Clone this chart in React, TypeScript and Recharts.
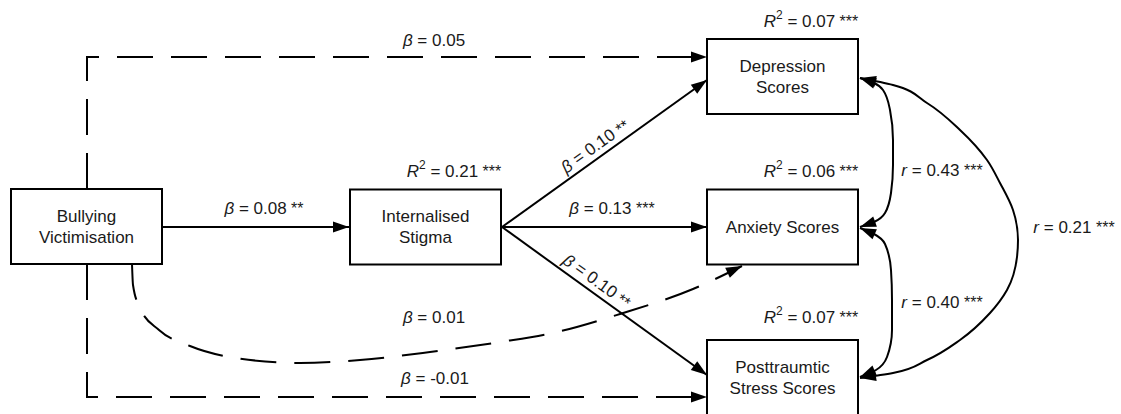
import React from 'react';
import { ComposedChart, Line, Scatter, XAxis, YAxis } from 'recharts';

const W = 1121;
const H = 414;
const BOX_W = 151;
const BOX_H = 75;
const FONT = '"Liberation Sans", Arial, sans-serif';

// Diagram nodes (centre positions in the diagram's coordinate space)
const nodes = [
  { id: 'bully', x: 86.5, y: 226.5, label: ['Bullying', 'Victimisation'] },
  { id: 'stigma', x: 425.5, y: 227, label: ['Internalised', 'Stigma'] },
  { id: 'dep', x: 782.5, y: 76.5, label: ['Depression', 'Scores'] },
  { id: 'anx', x: 782.5, y: 227, label: ['Anxiety Scores'] },
  { id: 'ptsd', x: 782.5, y: 377.5, label: ['Posttraumtic', 'Stress Scores'] },
];

// Paths between nodes
const edgeBullyDep = [
  { x: 87, y: 189 }, { x: 87, y: 57 }, { x: 707, y: 57 },
];
const edgeBullyPtsd = [
  { x: 87, y: 264 }, { x: 87, y: 397 }, { x: 707, y: 397 },
];
const edgeBullyStigma = [{ x: 162, y: 227 }, { x: 349, y: 227 }];
const edgeStigmaDep = [{ x: 502, y: 227 }, { x: 707, y: 80 }];
const edgeStigmaAnx = [{ x: 502, y: 227 }, { x: 707, y: 227 }];
const edgeStigmaPtsd = [{ x: 502, y: 227 }, { x: 707, y: 375 }];
const edgeBullyAnx = [
  { x: 132, y: 264 }, { x: 133, y: 285 }, { x: 140, y: 308 }, { x: 159, y: 330 },
  { x: 190, y: 346 }, { x: 230, y: 357 }, { x: 300, y: 363 }, { x: 360, y: 360 },
  { x: 430, y: 352 }, { x: 500, y: 342 }, { x: 557, y: 332 }, { x: 620, y: 314 },
  { x: 693, y: 289 }, { x: 742, y: 266 },
];
const edgeDepAnx = [
  { x: 860, y: 78 }, { x: 874, y: 83 }, { x: 883, y: 90 }, { x: 890, y: 110 },
  { x: 893, y: 140 }, { x: 893, y: 165 }, { x: 891, y: 193 }, { x: 885, y: 213 },
  { x: 874, y: 222 }, { x: 860, y: 227 },
];
const edgeAnxPtsd = [
  { x: 860, y: 228 }, { x: 874, y: 234 }, { x: 885, y: 244 }, { x: 891, y: 270 },
  { x: 892, y: 300 }, { x: 892, y: 330 }, { x: 887, y: 357 }, { x: 876, y: 370 },
  { x: 860, y: 377 },
];
const edgeDepPtsd = [
  { x: 860, y: 78 }, { x: 893, y: 85 }, { x: 927, y: 103 }, { x: 960, y: 130 },
  { x: 987, y: 160 }, { x: 1000, y: 183 }, { x: 1013, y: 210 }, { x: 1018, y: 240 },
  { x: 1017, y: 257 }, { x: 1007, y: 290 }, { x: 990, y: 313 }, { x: 960, y: 340 },
  { x: 927, y: 360 }, { x: 893, y: 373 }, { x: 860, y: 378 },
];

const edges = [
  { id: 'e1', points: edgeBullyDep, dashed: true, curve: 'linear', both: false },
  { id: 'e2', points: edgeBullyPtsd, dashed: true, curve: 'linear', both: false },
  { id: 'e3', points: edgeBullyStigma, dashed: false, curve: 'linear', both: false },
  { id: 'e4', points: edgeStigmaDep, dashed: false, curve: 'linear', both: false },
  { id: 'e5', points: edgeStigmaAnx, dashed: false, curve: 'linear', both: false },
  { id: 'e6', points: edgeStigmaPtsd, dashed: false, curve: 'linear', both: false },
  { id: 'e7', points: edgeBullyAnx, dashed: true, curve: 'monotoneX', both: false },
  { id: 'e8', points: edgeDepAnx, dashed: false, curve: 'monotoneY', both: true },
  { id: 'e9', points: edgeAnxPtsd, dashed: false, curve: 'monotoneY', both: true },
  { id: 'e10', points: edgeDepPtsd, dashed: false, curve: 'monotoneY', both: true },
];

// Coefficient labels
const labelKinds = ['beta', 'R2', 'beta', 'R2', 'beta', 'beta', 'beta', 'R2', 'r', 'r', 'r', 'beta', 'R2', 'beta'];
const labelValues = ['0.05', '0.07', '0.08', '0.21', '0.10', '0.13', '0.10', '0.06', '0.43', '0.21', '0.40', '0.01', '0.07', '-0.01'];
const labelStars = ['', '***', '**', '***', '**', '***', '**', '***', '***', '***', '***', '', '***', ''];
const labelX = [434, 811, 264, 454, 595, 612, 597, 811, 942, 1074, 942, 434, 811, 435];
const labelY = [40, 21, 208, 171, 146, 208, 281, 171, 170, 227, 302, 317, 317, 378];
const labelAngle = [0, 0, 0, 0, -35.6, 0, 35.8, 0, 0, 0, 0, 0, 0, 0];

const labels = labelKinds.map((kind, i) => ({
  kind,
  value: labelValues[i],
  stars: labelStars[i],
  x: labelX[i],
  y: labelY[i],
  angle: labelAngle[i],
}));

const arrows = edges.flatMap((e) => {
  const p = e.points;
  const n = p.length;
  const out = [
    {
      x: p[n - 1].x,
      y: p[n - 1].y,
      angle: (Math.atan2(p[n - 1].y - p[n - 2].y, p[n - 1].x - p[n - 2].x) * 180) / Math.PI,
    },
  ];
  if (e.both) {
    out.push({
      x: p[0].x,
      y: p[0].y,
      angle: (Math.atan2(p[0].y - p[1].y, p[0].x - p[1].x) * 180) / Math.PI,
    });
  }
  return out;
});

const NodeShape = (props: any) => {
  const { cx, cy, payload } = props;
  const lines: string[] = payload.label;
  const n = lines.length;
  return (
    <g>
      <rect
        x={cx - BOX_W / 2}
        y={cy - BOX_H / 2}
        width={BOX_W}
        height={BOX_H}
        fill="#fff"
        stroke="#000"
        strokeWidth={2}
      />
      {lines.map((l, i) => (
        <text
          key={i}
          x={cx}
          y={cy + (i - (n - 1) / 2) * 21}
          textAnchor="middle"
          dominantBaseline="central"
          fontFamily={FONT}
          fontSize={17}
          fill="#1a1a1a"
        >
          {l}
        </text>
      ))}
    </g>
  );
};

const ArrowShape = (props: any) => {
  const { cx, cy, payload } = props;
  return (
    <polygon
      points="0,0 -16,-5.5 -16,5.5"
      transform={`translate(${cx},${cy}) rotate(${payload.angle})`}
      fill="#000"
    />
  );
};

const LabelShape = (props: any) => {
  const { cx, cy, payload } = props;
  const { kind, value, stars, angle } = payload;
  let head: React.ReactNode;
  if (kind === 'beta') {
    head = <tspan fontStyle="italic">β</tspan>;
  } else if (kind === 'r') {
    head = <tspan fontStyle="italic">r</tspan>;
  } else {
    head = (
      <>
        <tspan fontStyle="italic">R</tspan>
        <tspan fontSize={12} dy={-6}>2</tspan>
        <tspan dy={6}> </tspan>
      </>
    );
  }
  return (
    <text
      x={cx}
      y={cy}
      textAnchor="middle"
      dominantBaseline="central"
      fontFamily={FONT}
      fontSize={17}
      fill="#1a1a1a"
      transform={angle ? `rotate(${angle},${cx},${cy})` : undefined}
    >
      {head}
      {kind === 'R2' ? `= ${value}` : ` = ${value}`}
      {stars ? <tspan fontSize={16}>{` ${stars}`}</tspan> : null}
    </text>
  );
};

export default function App() {
  return (
    <div style={{ position: 'absolute', left: 0, top: 0, width: W, height: H, background: '#fff' }}>
      <ComposedChart width={W} height={H} margin={{ top: 0, right: 0, bottom: 0, left: 0 }}>
        <XAxis type="number" dataKey="x" domain={[0, W]} hide allowDataOverflow />
        <YAxis type="number" dataKey="y" domain={[0, H]} reversed hide allowDataOverflow />
        {edges.map((e) => (
          <Line
            key={e.id}
            data={e.points}
            dataKey="y"
            type={e.curve as any}
            stroke="#000"
            strokeWidth={2}
            strokeDasharray={e.dashed ? '36 18' : undefined}
            dot={false}
            activeDot={false}
            isAnimationActive={false}
            legendType="none"
          />
        ))}
        <Scatter data={nodes} shape={NodeShape} isAnimationActive={false} />
        <Scatter data={arrows} shape={ArrowShape} isAnimationActive={false} />
        <Scatter data={labels} shape={LabelShape} isAnimationActive={false} />
      </ComposedChart>
    </div>
  );
}
